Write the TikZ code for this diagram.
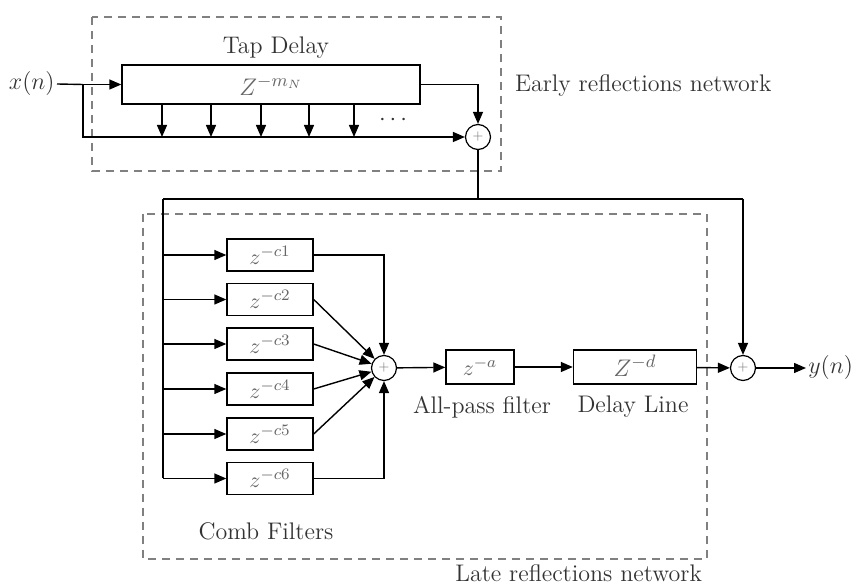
\documentclass[tikz,border=0pt]{standalone}
\usetikzlibrary{arrows.meta}

\tikzset{
  block/.style={draw, line width=0.7pt, inner sep=0pt, fill=white},
  summer/.style={draw, circle, line width=0.6pt, minimum size=12.5pt, inner sep=0pt,
    font=\fontsize{6}{6}\selectfont, text=gray},
  flow/.style={line width=0.7pt, -{Triangle[length=6pt,width=5pt]}},
  wire/.style={line width=0.7pt},
  netbox/.style={draw=gray, line width=0.7pt, dash pattern=on 4pt off 3pt},
  label/.style={font=\fontsize{12}{14}\selectfont, text=black!80},
  zlabel/.style={font=\fontsize{11}{13}\selectfont, text=black!60}
}

\begin{document}
\begin{tikzpicture}[x=0.5pt, y=-0.5pt]

  \useasboundingbox (0,0) rectangle (858,588);

  % network frames
  \draw[netbox] (92,17) rectangle (501,171);
  \draw[netbox] (143,214) rectangle (707,559);

  % early reflections
  \node[label, anchor=east, inner sep=1pt] (xn) at (57,84) {$x(n)$};
  \node[block, minimum width=149pt, minimum height=19.5pt] (tap) at (271,84.5) {};
  \node[zlabel, font=\fontsize{13}{15}\selectfont] at (271,86) {$Z^{-m_N}$};
  \node[label] (taplbl) at (276,48) {Tap Delay};
  \node[summer] (sumE) at (478,137) {+};
  \node[label, anchor=west] (early) at (508,86) {Early reflections network};
  \node[label] (dots) at (393,120) {$\cdots$};

  \coordinate (jx) at (83,84.5);
  \draw[wire] (xn.east) -- (jx);
  \draw[flow] (jx) -- (tap.west);
  \draw[flow] (jx) |- (sumE.west);
  \draw[flow] (tap.east) -| (sumE.north);

  \coordinate (b1) at (162,137);
  \coordinate (b2) at (211,137);
  \coordinate (b3) at (261,137);
  \coordinate (b4) at (309,137);
  \coordinate (b5) at (354,137);
  \draw[flow] (b1 |- tap.south) -- (b1);
  \draw[flow] (b2 |- tap.south) -- (b2);
  \draw[flow] (b3 |- tap.south) -- (b3);
  \draw[flow] (b4 |- tap.south) -- (b4);
  \draw[flow] (b5 |- tap.south) -- (b5);

  % late reflections
  \node[block, minimum width=43pt, minimum height=16pt] (comb1) at (270,255) {};
  \node[block, minimum width=43pt, minimum height=16pt] (comb2) at (270,299.5) {};
  \node[block, minimum width=43pt, minimum height=16pt] (comb3) at (270,344) {};
  \node[block, minimum width=43pt, minimum height=16pt] (comb4) at (270,389) {};
  \node[block, minimum width=43pt, minimum height=16pt] (comb5) at (270,434) {};
  \node[block, minimum width=43pt, minimum height=16pt] (comb6) at (270,478.5) {};
  \node[zlabel] at (comb1) {$z^{-c1}$};
  \node[zlabel] at (comb2) {$z^{-c2}$};
  \node[zlabel] at (comb3) {$z^{-c3}$};
  \node[zlabel] at (comb4) {$z^{-c4}$};
  \node[zlabel] at (comb5) {$z^{-c5}$};
  \node[zlabel] at (comb6) {$z^{-c6}$};
  \node[label] (comblbl) at (266,531) {Comb Filters};

  \node[summer] (sumC) at (384,368) {+};
  \node[block, minimum width=34pt, minimum height=17pt] (allpass) at (480,367) {};
  \node[zlabel] at (allpass) {$z^{-a}$};
  \node[label] (aplbl) at (482,407) {All-pass filter};
  \node[block, minimum width=61.5pt, minimum height=17pt] (delay) at (635,367) {};
  \node[zlabel, font=\fontsize{13}{15}\selectfont] at (635,366) {$Z^{-d}$};
  \node[label] (dllbl) at (633,407) {Delay Line};
  \node[label, anchor=east] (late) at (709,573) {Late reflections network};

  \node[summer] (sumL) at (743,368) {+};
  \node[label, anchor=west, inner sep=1pt] (yn) at (806,368) {$y(n)$};

  \coordinate (busL) at (163,199);
  \coordinate (busR) at (743,199);
  \draw[wire] (sumE.south) -- (sumE |- busL);
  \draw[wire] (busL) -- (busR);
  \draw[flow] (busR) -- (sumL.north);
  \draw[wire] (busL) -- (busL |- comb6);

  \draw[flow] (busL |- comb1) -- (comb1.west);
  \draw[flow] (busL |- comb2) -- (comb2.west);
  \draw[flow] (busL |- comb3) -- (comb3.west);
  \draw[flow] (busL |- comb4) -- (comb4.west);
  \draw[flow] (busL |- comb5) -- (comb5.west);
  \draw[flow] (busL |- comb6) -- (comb6.west);

  \draw[flow] (comb1.east) -| (sumC.north);
  \draw[flow] (comb2.east) -- (sumC);
  \draw[flow] (comb3.east) -- (sumC);
  \draw[flow] (comb4.east) -- (sumC);
  \draw[flow] (comb5.east) -- (sumC);
  \draw[flow] (comb6.east) -| (sumC.south);

  \draw[flow] (sumC) -- (allpass);
  \draw[flow] (allpass) -- (delay);
  \draw[flow] (delay) -- (sumL);
  \draw[flow] (sumL) -- (yn.west);

\end{tikzpicture}
\end{document}
